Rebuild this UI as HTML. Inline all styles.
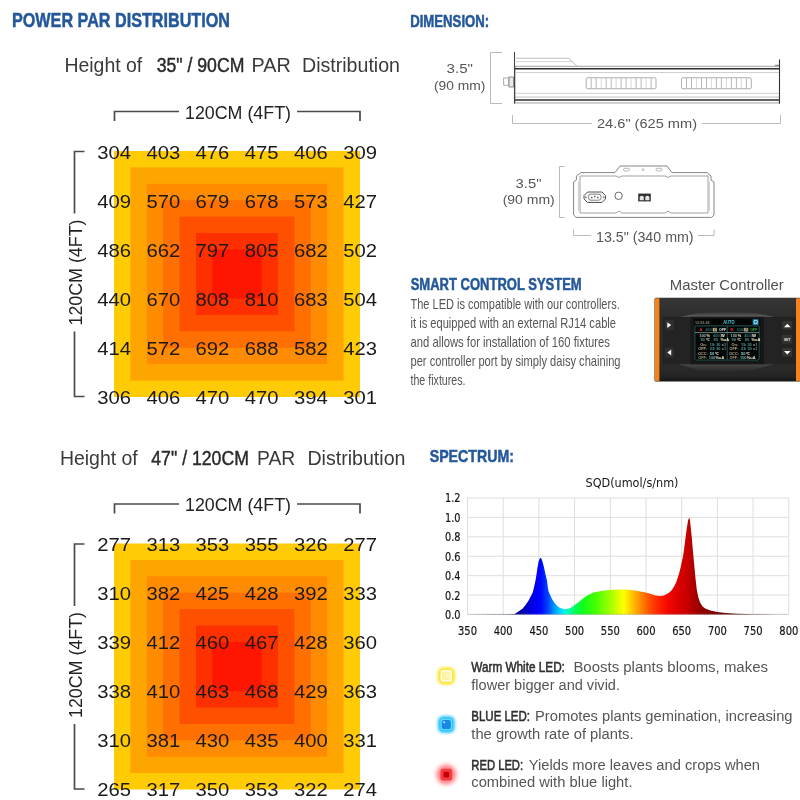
<!DOCTYPE html>
<html lang="en"><head><meta charset="utf-8"><title>Power PAR Distribution</title>
<style>
html,body{margin:0;padding:0;background:#fff;}
body{width:800px;height:800px;overflow:hidden;font-family:"Liberation Sans",sans-serif;}
svg{display:block}
text{font-family:"Liberation Sans",sans-serif;}
.ch text{font-family:"DejaVu Sans","Liberation Sans",sans-serif;}
</style></head><body>
<svg width="800" height="800" viewBox="0 0 800 800">
<rect width="800" height="800" fill="#fff"/>

<text x="12" y="26.6" font-size="20.5" fill="#24589a" font-weight="bold" text-anchor="start" textLength="218" lengthAdjust="spacingAndGlyphs" stroke="#24589a" stroke-width="0.5">POWER PAR DISTRIBUTION</text>
<text x="410.2" y="26.9" font-size="16.2" fill="#24589a" font-weight="bold" text-anchor="start" textLength="79" lengthAdjust="spacingAndGlyphs" stroke="#24589a" stroke-width="0.5">DIMENSION:</text>
<text x="410.7" y="289.7" font-size="15.6" fill="#24589a" font-weight="bold" text-anchor="start" textLength="171" lengthAdjust="spacingAndGlyphs" stroke="#24589a" stroke-width="0.5">SMART CONTROL SYSTEM</text>
<text x="429.7" y="461.5" font-size="17" fill="#24589a" font-weight="bold" text-anchor="start" textLength="84.3" lengthAdjust="spacingAndGlyphs" stroke="#24589a" stroke-width="0.5">SPECTRUM:</text>
<text x="64.4" y="72" font-size="20" fill="#3a3a3a" font-weight="normal" text-anchor="start" textLength="77.9" lengthAdjust="spacingAndGlyphs" >Height of</text>
<text x="156.7" y="72" font-size="20" fill="#2a2a2a" font-weight="normal" text-anchor="start" textLength="87.7" lengthAdjust="spacingAndGlyphs" stroke="#2a2a2a" stroke-width="0.45">35" / 90CM</text>
<text x="251.6" y="72" font-size="20" fill="#3a3a3a" font-weight="normal" text-anchor="start" textLength="39.2" lengthAdjust="spacingAndGlyphs" >PAR</text>
<text x="302" y="72" font-size="20" fill="#3a3a3a" font-weight="normal" text-anchor="start" textLength="98" lengthAdjust="spacingAndGlyphs" >Distribution</text>
<path d="M114.5 121.0V111.5H179M297 111.5H360V121.0" fill="none" stroke="#4a4a4a" stroke-width="1.7"/>
<text x="185" y="118.6" font-size="19" fill="#222" font-weight="normal" text-anchor="start" textLength="106" lengthAdjust="spacingAndGlyphs" >120CM (4FT)</text>
<path d="M84.5 151.5H74.5V213.5M74.5 331.5V396.5H84.5" fill="none" stroke="#4a4a4a" stroke-width="1.7"/>
<g transform="translate(81.6,325.5) rotate(-90)">
<text x="0" y="0" font-size="19" fill="#222" font-weight="normal" text-anchor="start" textLength="106" lengthAdjust="spacingAndGlyphs" >120CM (4FT)</text>
</g>
<rect x="114.0" y="151.0" width="246.0" height="246.0" fill="#ffcb05"/>
<rect x="130.4" y="167.4" width="213.2" height="213.2" fill="#ffa500"/>
<rect x="146.8" y="183.8" width="180.4" height="180.4" fill="#ff8c00"/>
<rect x="163.2" y="200.2" width="147.6" height="147.6" fill="#ff7000"/>
<rect x="179.6" y="216.6" width="114.8" height="114.8" fill="#ff5000"/>
<rect x="196.0" y="233.0" width="82.0" height="82.0" fill="#ff3000"/>
<rect x="212.4" y="249.4" width="49.2" height="49.2" fill="#ff1600"/>
<text x="114.1" y="158.5" font-size="18" fill="#1a1a1a" font-weight="normal" text-anchor="middle" textLength="33.8" lengthAdjust="spacingAndGlyphs" >304</text>
<text x="163.3" y="158.5" font-size="18" fill="#1a1a1a" font-weight="normal" text-anchor="middle" textLength="33.8" lengthAdjust="spacingAndGlyphs" >403</text>
<text x="212.5" y="158.5" font-size="18" fill="#1a1a1a" font-weight="normal" text-anchor="middle" textLength="33.8" lengthAdjust="spacingAndGlyphs" >476</text>
<text x="261.7" y="158.5" font-size="18" fill="#1a1a1a" font-weight="normal" text-anchor="middle" textLength="33.8" lengthAdjust="spacingAndGlyphs" >475</text>
<text x="310.9" y="158.5" font-size="18" fill="#1a1a1a" font-weight="normal" text-anchor="middle" textLength="33.8" lengthAdjust="spacingAndGlyphs" >406</text>
<text x="360.1" y="158.5" font-size="18" fill="#1a1a1a" font-weight="normal" text-anchor="middle" textLength="33.8" lengthAdjust="spacingAndGlyphs" >309</text>
<text x="114.1" y="207.5" font-size="18" fill="#1a1a1a" font-weight="normal" text-anchor="middle" textLength="33.8" lengthAdjust="spacingAndGlyphs" >409</text>
<text x="163.3" y="207.5" font-size="18" fill="#1a1a1a" font-weight="normal" text-anchor="middle" textLength="33.8" lengthAdjust="spacingAndGlyphs" >570</text>
<text x="212.5" y="207.5" font-size="18" fill="#1a1a1a" font-weight="normal" text-anchor="middle" textLength="33.8" lengthAdjust="spacingAndGlyphs" >679</text>
<text x="261.7" y="207.5" font-size="18" fill="#1a1a1a" font-weight="normal" text-anchor="middle" textLength="33.8" lengthAdjust="spacingAndGlyphs" >678</text>
<text x="310.9" y="207.5" font-size="18" fill="#1a1a1a" font-weight="normal" text-anchor="middle" textLength="33.8" lengthAdjust="spacingAndGlyphs" >573</text>
<text x="360.1" y="207.5" font-size="18" fill="#1a1a1a" font-weight="normal" text-anchor="middle" textLength="33.8" lengthAdjust="spacingAndGlyphs" >427</text>
<text x="114.1" y="256.5" font-size="18" fill="#1a1a1a" font-weight="normal" text-anchor="middle" textLength="33.8" lengthAdjust="spacingAndGlyphs" >486</text>
<text x="163.3" y="256.5" font-size="18" fill="#1a1a1a" font-weight="normal" text-anchor="middle" textLength="33.8" lengthAdjust="spacingAndGlyphs" >662</text>
<text x="212.5" y="256.5" font-size="18" fill="#1a1a1a" font-weight="normal" text-anchor="middle" textLength="33.8" lengthAdjust="spacingAndGlyphs" >797</text>
<text x="261.7" y="256.5" font-size="18" fill="#1a1a1a" font-weight="normal" text-anchor="middle" textLength="33.8" lengthAdjust="spacingAndGlyphs" >805</text>
<text x="310.9" y="256.5" font-size="18" fill="#1a1a1a" font-weight="normal" text-anchor="middle" textLength="33.8" lengthAdjust="spacingAndGlyphs" >682</text>
<text x="360.1" y="256.5" font-size="18" fill="#1a1a1a" font-weight="normal" text-anchor="middle" textLength="33.8" lengthAdjust="spacingAndGlyphs" >502</text>
<text x="114.1" y="305.5" font-size="18" fill="#1a1a1a" font-weight="normal" text-anchor="middle" textLength="33.8" lengthAdjust="spacingAndGlyphs" >440</text>
<text x="163.3" y="305.5" font-size="18" fill="#1a1a1a" font-weight="normal" text-anchor="middle" textLength="33.8" lengthAdjust="spacingAndGlyphs" >670</text>
<text x="212.5" y="305.5" font-size="18" fill="#1a1a1a" font-weight="normal" text-anchor="middle" textLength="33.8" lengthAdjust="spacingAndGlyphs" >808</text>
<text x="261.7" y="305.5" font-size="18" fill="#1a1a1a" font-weight="normal" text-anchor="middle" textLength="33.8" lengthAdjust="spacingAndGlyphs" >810</text>
<text x="310.9" y="305.5" font-size="18" fill="#1a1a1a" font-weight="normal" text-anchor="middle" textLength="33.8" lengthAdjust="spacingAndGlyphs" >683</text>
<text x="360.1" y="305.5" font-size="18" fill="#1a1a1a" font-weight="normal" text-anchor="middle" textLength="33.8" lengthAdjust="spacingAndGlyphs" >504</text>
<text x="114.1" y="354.5" font-size="18" fill="#1a1a1a" font-weight="normal" text-anchor="middle" textLength="33.8" lengthAdjust="spacingAndGlyphs" >414</text>
<text x="163.3" y="354.5" font-size="18" fill="#1a1a1a" font-weight="normal" text-anchor="middle" textLength="33.8" lengthAdjust="spacingAndGlyphs" >572</text>
<text x="212.5" y="354.5" font-size="18" fill="#1a1a1a" font-weight="normal" text-anchor="middle" textLength="33.8" lengthAdjust="spacingAndGlyphs" >692</text>
<text x="261.7" y="354.5" font-size="18" fill="#1a1a1a" font-weight="normal" text-anchor="middle" textLength="33.8" lengthAdjust="spacingAndGlyphs" >688</text>
<text x="310.9" y="354.5" font-size="18" fill="#1a1a1a" font-weight="normal" text-anchor="middle" textLength="33.8" lengthAdjust="spacingAndGlyphs" >582</text>
<text x="360.1" y="354.5" font-size="18" fill="#1a1a1a" font-weight="normal" text-anchor="middle" textLength="33.8" lengthAdjust="spacingAndGlyphs" >423</text>
<text x="114.1" y="403.5" font-size="18" fill="#1a1a1a" font-weight="normal" text-anchor="middle" textLength="33.8" lengthAdjust="spacingAndGlyphs" >306</text>
<text x="163.3" y="403.5" font-size="18" fill="#1a1a1a" font-weight="normal" text-anchor="middle" textLength="33.8" lengthAdjust="spacingAndGlyphs" >406</text>
<text x="212.5" y="403.5" font-size="18" fill="#1a1a1a" font-weight="normal" text-anchor="middle" textLength="33.8" lengthAdjust="spacingAndGlyphs" >470</text>
<text x="261.7" y="403.5" font-size="18" fill="#1a1a1a" font-weight="normal" text-anchor="middle" textLength="33.8" lengthAdjust="spacingAndGlyphs" >470</text>
<text x="310.9" y="403.5" font-size="18" fill="#1a1a1a" font-weight="normal" text-anchor="middle" textLength="33.8" lengthAdjust="spacingAndGlyphs" >394</text>
<text x="360.1" y="403.5" font-size="18" fill="#1a1a1a" font-weight="normal" text-anchor="middle" textLength="33.8" lengthAdjust="spacingAndGlyphs" >301</text>
<text x="59.9" y="464.5" font-size="20" fill="#3a3a3a" font-weight="normal" text-anchor="start" textLength="77.9" lengthAdjust="spacingAndGlyphs" >Height of</text>
<text x="151.3" y="464.5" font-size="20" fill="#2a2a2a" font-weight="normal" text-anchor="start" textLength="97.6" lengthAdjust="spacingAndGlyphs" stroke="#2a2a2a" stroke-width="0.45">47" / 120CM</text>
<text x="257" y="464.5" font-size="20" fill="#3a3a3a" font-weight="normal" text-anchor="start" textLength="38.3" lengthAdjust="spacingAndGlyphs" >PAR</text>
<text x="307.4" y="464.5" font-size="20" fill="#3a3a3a" font-weight="normal" text-anchor="start" textLength="98.1" lengthAdjust="spacingAndGlyphs" >Distribution</text>
<path d="M114.5 513.5V504.0H179M297 504.0H360V513.5" fill="none" stroke="#4a4a4a" stroke-width="1.7"/>
<text x="185" y="511.1" font-size="19" fill="#222" font-weight="normal" text-anchor="start" textLength="106" lengthAdjust="spacingAndGlyphs" >120CM (4FT)</text>
<path d="M84.5 544.0H74.5V606.0M74.5 724.0V789.0H84.5" fill="none" stroke="#4a4a4a" stroke-width="1.7"/>
<g transform="translate(81.6,718.0) rotate(-90)">
<text x="0" y="0" font-size="19" fill="#222" font-weight="normal" text-anchor="start" textLength="106" lengthAdjust="spacingAndGlyphs" >120CM (4FT)</text>
</g>
<rect x="114.0" y="543.5" width="246.0" height="246.0" fill="#ffcb05"/>
<rect x="130.4" y="559.9" width="213.2" height="213.2" fill="#ffa500"/>
<rect x="146.8" y="576.3" width="180.4" height="180.4" fill="#ff8c00"/>
<rect x="163.2" y="592.7" width="147.6" height="147.6" fill="#ff7000"/>
<rect x="179.6" y="609.1" width="114.8" height="114.8" fill="#ff5000"/>
<rect x="196.0" y="625.5" width="82.0" height="82.0" fill="#ff3000"/>
<rect x="212.4" y="641.9" width="49.2" height="49.2" fill="#ff1600"/>
<text x="114.1" y="551.0" font-size="18" fill="#1a1a1a" font-weight="normal" text-anchor="middle" textLength="33.8" lengthAdjust="spacingAndGlyphs" >277</text>
<text x="163.3" y="551.0" font-size="18" fill="#1a1a1a" font-weight="normal" text-anchor="middle" textLength="33.8" lengthAdjust="spacingAndGlyphs" >313</text>
<text x="212.5" y="551.0" font-size="18" fill="#1a1a1a" font-weight="normal" text-anchor="middle" textLength="33.8" lengthAdjust="spacingAndGlyphs" >353</text>
<text x="261.7" y="551.0" font-size="18" fill="#1a1a1a" font-weight="normal" text-anchor="middle" textLength="33.8" lengthAdjust="spacingAndGlyphs" >355</text>
<text x="310.9" y="551.0" font-size="18" fill="#1a1a1a" font-weight="normal" text-anchor="middle" textLength="33.8" lengthAdjust="spacingAndGlyphs" >326</text>
<text x="360.1" y="551.0" font-size="18" fill="#1a1a1a" font-weight="normal" text-anchor="middle" textLength="33.8" lengthAdjust="spacingAndGlyphs" >277</text>
<text x="114.1" y="600.0" font-size="18" fill="#1a1a1a" font-weight="normal" text-anchor="middle" textLength="33.8" lengthAdjust="spacingAndGlyphs" >310</text>
<text x="163.3" y="600.0" font-size="18" fill="#1a1a1a" font-weight="normal" text-anchor="middle" textLength="33.8" lengthAdjust="spacingAndGlyphs" >382</text>
<text x="212.5" y="600.0" font-size="18" fill="#1a1a1a" font-weight="normal" text-anchor="middle" textLength="33.8" lengthAdjust="spacingAndGlyphs" >425</text>
<text x="261.7" y="600.0" font-size="18" fill="#1a1a1a" font-weight="normal" text-anchor="middle" textLength="33.8" lengthAdjust="spacingAndGlyphs" >428</text>
<text x="310.9" y="600.0" font-size="18" fill="#1a1a1a" font-weight="normal" text-anchor="middle" textLength="33.8" lengthAdjust="spacingAndGlyphs" >392</text>
<text x="360.1" y="600.0" font-size="18" fill="#1a1a1a" font-weight="normal" text-anchor="middle" textLength="33.8" lengthAdjust="spacingAndGlyphs" >333</text>
<text x="114.1" y="649.0" font-size="18" fill="#1a1a1a" font-weight="normal" text-anchor="middle" textLength="33.8" lengthAdjust="spacingAndGlyphs" >339</text>
<text x="163.3" y="649.0" font-size="18" fill="#1a1a1a" font-weight="normal" text-anchor="middle" textLength="33.8" lengthAdjust="spacingAndGlyphs" >412</text>
<text x="212.5" y="649.0" font-size="18" fill="#1a1a1a" font-weight="normal" text-anchor="middle" textLength="33.8" lengthAdjust="spacingAndGlyphs" >460</text>
<text x="261.7" y="649.0" font-size="18" fill="#1a1a1a" font-weight="normal" text-anchor="middle" textLength="33.8" lengthAdjust="spacingAndGlyphs" >467</text>
<text x="310.9" y="649.0" font-size="18" fill="#1a1a1a" font-weight="normal" text-anchor="middle" textLength="33.8" lengthAdjust="spacingAndGlyphs" >428</text>
<text x="360.1" y="649.0" font-size="18" fill="#1a1a1a" font-weight="normal" text-anchor="middle" textLength="33.8" lengthAdjust="spacingAndGlyphs" >360</text>
<text x="114.1" y="698.0" font-size="18" fill="#1a1a1a" font-weight="normal" text-anchor="middle" textLength="33.8" lengthAdjust="spacingAndGlyphs" >338</text>
<text x="163.3" y="698.0" font-size="18" fill="#1a1a1a" font-weight="normal" text-anchor="middle" textLength="33.8" lengthAdjust="spacingAndGlyphs" >410</text>
<text x="212.5" y="698.0" font-size="18" fill="#1a1a1a" font-weight="normal" text-anchor="middle" textLength="33.8" lengthAdjust="spacingAndGlyphs" >463</text>
<text x="261.7" y="698.0" font-size="18" fill="#1a1a1a" font-weight="normal" text-anchor="middle" textLength="33.8" lengthAdjust="spacingAndGlyphs" >468</text>
<text x="310.9" y="698.0" font-size="18" fill="#1a1a1a" font-weight="normal" text-anchor="middle" textLength="33.8" lengthAdjust="spacingAndGlyphs" >429</text>
<text x="360.1" y="698.0" font-size="18" fill="#1a1a1a" font-weight="normal" text-anchor="middle" textLength="33.8" lengthAdjust="spacingAndGlyphs" >363</text>
<text x="114.1" y="747.0" font-size="18" fill="#1a1a1a" font-weight="normal" text-anchor="middle" textLength="33.8" lengthAdjust="spacingAndGlyphs" >310</text>
<text x="163.3" y="747.0" font-size="18" fill="#1a1a1a" font-weight="normal" text-anchor="middle" textLength="33.8" lengthAdjust="spacingAndGlyphs" >381</text>
<text x="212.5" y="747.0" font-size="18" fill="#1a1a1a" font-weight="normal" text-anchor="middle" textLength="33.8" lengthAdjust="spacingAndGlyphs" >430</text>
<text x="261.7" y="747.0" font-size="18" fill="#1a1a1a" font-weight="normal" text-anchor="middle" textLength="33.8" lengthAdjust="spacingAndGlyphs" >435</text>
<text x="310.9" y="747.0" font-size="18" fill="#1a1a1a" font-weight="normal" text-anchor="middle" textLength="33.8" lengthAdjust="spacingAndGlyphs" >400</text>
<text x="360.1" y="747.0" font-size="18" fill="#1a1a1a" font-weight="normal" text-anchor="middle" textLength="33.8" lengthAdjust="spacingAndGlyphs" >331</text>
<text x="114.1" y="796.0" font-size="18" fill="#1a1a1a" font-weight="normal" text-anchor="middle" textLength="33.8" lengthAdjust="spacingAndGlyphs" >265</text>
<text x="163.3" y="796.0" font-size="18" fill="#1a1a1a" font-weight="normal" text-anchor="middle" textLength="33.8" lengthAdjust="spacingAndGlyphs" >317</text>
<text x="212.5" y="796.0" font-size="18" fill="#1a1a1a" font-weight="normal" text-anchor="middle" textLength="33.8" lengthAdjust="spacingAndGlyphs" >350</text>
<text x="261.7" y="796.0" font-size="18" fill="#1a1a1a" font-weight="normal" text-anchor="middle" textLength="33.8" lengthAdjust="spacingAndGlyphs" >353</text>
<text x="310.9" y="796.0" font-size="18" fill="#1a1a1a" font-weight="normal" text-anchor="middle" textLength="33.8" lengthAdjust="spacingAndGlyphs" >322</text>
<text x="360.1" y="796.0" font-size="18" fill="#1a1a1a" font-weight="normal" text-anchor="middle" textLength="33.8" lengthAdjust="spacingAndGlyphs" >274</text>
<text x="459.8" y="73.3" font-size="13.2" fill="#565656" font-weight="normal" text-anchor="middle" textLength="26.4" lengthAdjust="spacingAndGlyphs" >3.5"</text>
<text x="459.7" y="89.8" font-size="13.2" fill="#565656" font-weight="normal" text-anchor="middle" textLength="51.4" lengthAdjust="spacingAndGlyphs" >(90 mm)</text>
<path d="M502 52.5H490.5V103.5H502" fill="none" stroke="#bababa" stroke-width="1"/>
<path d="M512.5 115V123.5H592M702 123.5H780.5V115" fill="none" stroke="#bababa" stroke-width="1"/>
<text x="647" y="128.3" font-size="13.5" fill="#565656" font-weight="normal" text-anchor="middle" textLength="100" lengthAdjust="spacingAndGlyphs" >24.6" (625 mm)</text>
<g fill="none" stroke="#555" stroke-width="0.8">
<path d="M516 58.2H568.7L577 66.2" stroke="#aaa"/>
<path d="M516 61.6H572" stroke="#c8c8c8"/>
<rect x="515" y="66.25" width="264.5" height="36.7" fill="#fff" stroke="#888" stroke-width="0.8"/>
<path d="M515 68.8H779" stroke="#2e2e2e" stroke-width="1.6"/>
<path d="M515 72.5H779" stroke="#c4c4c4"/>
<path d="M515 93.3H779" stroke="#c4c4c4"/>
<path d="M515 97H779" stroke="#b0b0b0"/>
<path d="M515 100H779" stroke="#2e2e2e" stroke-width="1.6"/>
<path d="M514.5 52V103.7" stroke="#444" stroke-width="1.1"/>
<path d="M779.5 59.4V103.7" stroke="#333" stroke-width="1.1"/>
<path d="M775 65.3H779" stroke="#666" stroke-width="0.9"/>
<rect x="503.7" y="78" width="5.3" height="7.2" stroke="#999" fill="#fff"/><rect x="509" y="77" width="4.6" height="10" stroke="#777" fill="#e8e8e8"/>
<rect x="586.2" y="77.75" width="69.8" height="11" rx="1.5" stroke="#999" stroke-width="0.8"/>
<path d="M591.2 78.2V88.3" stroke="#999" stroke-width="0.7"/>
<path d="M596.2 78.2V88.3" stroke="#999" stroke-width="0.7"/>
<path d="M601.2 78.2V88.3" stroke="#c8c8c8" stroke-width="0.7"/>
<path d="M606.2 78.2V88.3" stroke="#999" stroke-width="0.7"/>
<path d="M611.2 78.2V88.3" stroke="#999" stroke-width="0.7"/>
<path d="M616.1 78.2V88.3" stroke="#c8c8c8" stroke-width="0.7"/>
<path d="M621.1 78.2V88.3" stroke="#999" stroke-width="0.7"/>
<path d="M626.1 78.2V88.3" stroke="#999" stroke-width="0.7"/>
<path d="M631.1 78.2V88.3" stroke="#c8c8c8" stroke-width="0.7"/>
<path d="M636.1 78.2V88.3" stroke="#999" stroke-width="0.7"/>
<path d="M641.1 78.2V88.3" stroke="#999" stroke-width="0.7"/>
<path d="M646.1 78.2V88.3" stroke="#c8c8c8" stroke-width="0.7"/>
<path d="M651.1 78.2V88.3" stroke="#999" stroke-width="0.7"/>
<rect x="681.5" y="77.75" width="69.8" height="11" rx="1.5" stroke="#999" stroke-width="0.8"/>
<path d="M686.5 78.2V88.3" stroke="#999" stroke-width="0.7"/>
<path d="M691.5 78.2V88.3" stroke="#999" stroke-width="0.7"/>
<path d="M696.5 78.2V88.3" stroke="#c8c8c8" stroke-width="0.7"/>
<path d="M701.5 78.2V88.3" stroke="#999" stroke-width="0.7"/>
<path d="M706.5 78.2V88.3" stroke="#999" stroke-width="0.7"/>
<path d="M711.4 78.2V88.3" stroke="#c8c8c8" stroke-width="0.7"/>
<path d="M716.4 78.2V88.3" stroke="#999" stroke-width="0.7"/>
<path d="M721.4 78.2V88.3" stroke="#999" stroke-width="0.7"/>
<path d="M726.4 78.2V88.3" stroke="#c8c8c8" stroke-width="0.7"/>
<path d="M731.4 78.2V88.3" stroke="#999" stroke-width="0.7"/>
<path d="M736.4 78.2V88.3" stroke="#999" stroke-width="0.7"/>
<path d="M741.4 78.2V88.3" stroke="#c8c8c8" stroke-width="0.7"/>
<path d="M746.4 78.2V88.3" stroke="#999" stroke-width="0.7"/>
</g>
<text x="528.5" y="187.7" font-size="13" fill="#565656" font-weight="normal" text-anchor="middle" textLength="26" lengthAdjust="spacingAndGlyphs" >3.5"</text>
<text x="528.7" y="204" font-size="13" fill="#565656" font-weight="normal" text-anchor="middle" textLength="52" lengthAdjust="spacingAndGlyphs" >(90 mm)</text>
<path d="M564.5 166.5H559.5V217.5H564.5" fill="none" stroke="#bababa" stroke-width="1"/>
<path d="M573.6 229.5V235.500H591M698 235.500H714V229.5" fill="none" stroke="#bababa" stroke-width="1"/>
<text x="644.8" y="242" font-size="14" fill="#565656" font-weight="normal" text-anchor="middle" textLength="97.6" lengthAdjust="spacingAndGlyphs" >13.5" (340 mm)</text>
<g fill="none" stroke="#777" stroke-width="0.9">
<path d="M581.0 172.6 L615.0 172.6 L620.0 166.0 L667.0 166.0 L672.0 172.6 L707.0 172.6 L711.0 176.0 L711.0 180.0 L714.0 182.0 L714.0 215.0 L711.6 217.4 L576.0 217.4 L573.6 215.0 L573.6 182.0 L576.4 180.0 L576.4 176.0Z" fill="#fff" stroke="#777"/>
<path d="M580.0 176.0 L616.0 176.0 L619.0 177.4 L622.0 176.0 L665.0 176.0 L668.0 177.4 L671.0 176.0 L708.0 176.0 L708.0 213.0 L671.0 213.0 L668.0 211.0 L665.0 213.0 L622.0 213.0 L619.0 211.0 L616.0 213.0 L580.0 213.0Z" stroke="#888" stroke-width="0.8"/>
<path d="M578.5 181.5V210.5M709.5 181.5V210.5" stroke="#bbb" stroke-width="0.7"/>
<rect x="623.5" y="168.3" width="6" height="2.6" rx="1.3" stroke="#999" stroke-width="0.7"/><rect x="656" y="168.3" width="6" height="2.6" rx="1.3" stroke="#999" stroke-width="0.7"/><circle cx="643" cy="169.6" r="0.9" stroke="#999" stroke-width="0.7"/>
<path d="M584 195.5L587.500 192H602L605.500 195.500V199L602 202.500H587.500L584 199Z" stroke="#555" stroke-width="1" fill="#f4f4f4"/>
<rect x="588.5" y="194.2" width="12.500" height="6" rx="2.500" stroke="#666" stroke-width="0.800" fill="#fff"/>
<path d="M591.8 196.800V198.200M594.800 195.800V197.200M597.800 196.800V198.200" stroke="#333" stroke-width="1.200"/>
<circle cx="585.8" cy="197.2" r="0.8" fill="#555" stroke="none"/><circle cx="603.8" cy="197.2" r="0.8" fill="#555" stroke="none"/>
<circle cx="618.6" cy="195.8" r="3.7" stroke="#555" stroke-width="0.900"/>
<rect x="638.2" y="193.6" width="12.600" height="7.800" fill="#2e2e2e" stroke="none"/>
<path d="M639.700 200.300V196.800Q641.800 194.800 643.800 196.800V200.300ZM645.300 200.300V196.800Q647.300 194.800 649.400 196.800V200.300Z" fill="#e4e4e4" stroke="none"/>
</g>
<text x="410.5" y="309.4" font-size="15" fill="#555" font-weight="normal" text-anchor="start" textLength="209.2" lengthAdjust="spacingAndGlyphs" >The LED is compatible with our controllers.</text>
<text x="410.5" y="328.2" font-size="15" fill="#555" font-weight="normal" text-anchor="start" textLength="205.5" lengthAdjust="spacingAndGlyphs" >it is equipped with an external RJ14 cable</text>
<text x="410.5" y="347.0" font-size="15" fill="#555" font-weight="normal" text-anchor="start" textLength="199.5" lengthAdjust="spacingAndGlyphs" >and allows for installation of 160 fixtures</text>
<text x="410.5" y="365.8" font-size="15" fill="#555" font-weight="normal" text-anchor="start" textLength="210" lengthAdjust="spacingAndGlyphs" >per controller port by simply daisy chaining</text>
<text x="410.5" y="384.6" font-size="15" fill="#555" font-weight="normal" text-anchor="start" textLength="55" lengthAdjust="spacingAndGlyphs" >the fixtures.</text>
<text x="726.8" y="289.5" font-size="14.8" fill="#505050" font-weight="normal" text-anchor="middle" textLength="114" lengthAdjust="spacingAndGlyphs" >Master Controller</text>
<g>
<defs><linearGradient id="cb" x1="0" y1="0" x2="0" y2="1"><stop offset="0" stop-color="#363636"/><stop offset="0.2" stop-color="#2e2e2e"/><stop offset="0.8" stop-color="#2b2b2b"/><stop offset="0.93" stop-color="#252525"/><stop offset="1" stop-color="#161616"/></linearGradient>
<linearGradient id="cf" x1="0" y1="0" x2="0" y2="1"><stop offset="0" stop-color="#333"/><stop offset="1" stop-color="#636363"/></linearGradient>
<linearGradient id="cg" x1="0" y1="0" x2="0" y2="1"><stop offset="0" stop-color="#474747"/><stop offset="1" stop-color="#2b2b2b"/></linearGradient></defs>
<rect x="654.500" y="297.800" width="146" height="83.700" rx="1.500" fill="url(#cb)"/>
<rect x="654.700" y="298.300" width="4.700" height="82.600" fill="#f5821f"/>
<rect x="796" y="298.300" width="4" height="82.600" fill="#f5821f"/>
<path d="M680 317L698 313Q727 311.200 756 313L774 317Z" fill="url(#cf)"/>
<path d="M678 364L700 370.500Q726 372 752 370.500L774 364Z" fill="url(#cg)"/>
<rect x="662.500" y="316.800" width="133.500" height="47.400" fill="#232323"/>
<rect x="690.500" y="316.800" width="73.500" height="47.400" fill="#171717"/>
<rect x="694.300" y="318.800" width="65.800" height="42.200" fill="#040606"/>
<rect x="664.800" y="320" width="9" height="10" rx="1" fill="#303030"/><rect x="664.800" y="347.500" width="9" height="10" rx="1" fill="#303030"/>
<path d="M667.300 322.200V328L671.200 325.100Z" fill="#fff"/><path d="M671.200 349.600V355.400L667.300 352.500Z" fill="#fff"/>
<rect x="782" y="321" width="10.300" height="8.500" rx="1" fill="#343434"/>
<rect x="782" y="335" width="10.300" height="8.500" rx="1" fill="#343434"/>
<rect x="782" y="348" width="10.300" height="8.500" rx="1" fill="#343434"/>
<path d="M784 327.200H790.600L787.300 323.800Z" fill="#fff"/><path d="M784 351H790.600L787.300 354.400Z" fill="#fff"/>
<text x="787.2" y="340.5" font-size="3.3" fill="#eee" font-weight="bold" text-anchor="middle" >SET</text>
<g fill="none" stroke="#377f80" stroke-width="0.650"><rect x="694.900" y="325.900" width="64.300" height="34.200" rx="1"/><path d="M727.200 326V360"/><path d="M695 332.600H759.200" stroke="#8fc4c4"/></g>
<g font-weight="bold">
<text x="695" y="323.6" font-size="3.6" fill="#8a8a78" font-weight="bold" text-anchor="start" >12:02:28</text>
<text x="728.9" y="323.9" font-size="4.6" fill="#49cfd6" font-weight="bold" text-anchor="middle" textLength="11.2" lengthAdjust="spacingAndGlyphs" >AUTO</text>
<rect x="752.700" y="319.100" width="5.900" height="5.900" fill="#1d6c9c"/><circle cx="755.650" cy="322.050" r="1.750" fill="none" stroke="#8fe8f0" stroke-width="1.100"/>
<text x="699.3" y="331.3" font-size="4.4" fill="#e02222" font-weight="bold" text-anchor="start" >A</text>
<text x="705.5" y="331.1" font-size="3.6" fill="#3a6a6c" font-weight="bold" text-anchor="start" >4000</text>
<rect x="713.1" y="327.900" width="3.900" height="3.500" fill="#e4dc9c"/>
<text x="713.7" y="331" font-size="3.2" fill="#333" font-weight="bold" text-anchor="start" >W</text>
<text x="719.1" y="331.1" font-size="3.6" fill="#d4e8dc" font-weight="bold" text-anchor="start" >OFF</text>
<text x="699.3" y="337" font-size="3.9" fill="#a4c4bc" font-weight="bold" text-anchor="start" >100</text>
<text x="706.6" y="337" font-size="3.9" fill="#f0f0c4" font-weight="bold" text-anchor="start" >%</text>
<text x="713" y="337" font-size="3.9" fill="#3f7476" font-weight="bold" text-anchor="start" >4500</text>
<text x="721" y="337" font-size="3.9" fill="#ffffdc" font-weight="bold" text-anchor="start" >W</text>
<text x="700.4" y="341.3" font-size="3.9" fill="#5fa0a0" font-weight="bold" text-anchor="start" >90</text>
<text x="706.2" y="341.3" font-size="3.9" fill="#d8e8d0" font-weight="bold" text-anchor="start" >℃</text>
<text x="713.6" y="341.3" font-size="3.9" fill="#4f8c8c" font-weight="bold" text-anchor="start" >89</text>
<text x="720.4" y="341.3" font-size="3.9" fill="#f4f4d0" font-weight="bold" text-anchor="start" >%uA</text>
<text x="700.2" y="346.1" font-size="3.9" fill="#b4ac8c" font-weight="bold" text-anchor="start" >On:</text>
<text x="709.8" y="346.1" font-size="3.9" fill="#4f9c9c" font-weight="bold" text-anchor="start" >19</text>
<text x="713.5" y="346.1" font-size="3.9" fill="#7aa" font-weight="bold" text-anchor="start" >:</text>
<text x="716.2" y="346.1" font-size="3.9" fill="#4f9c9c" font-weight="bold" text-anchor="start" >30</text>
<text x="721.8" y="346.1" font-size="3.9" fill="#7a9a98" font-weight="bold" text-anchor="start" >±1</text>
<text x="698.2" y="350.4" font-size="3.9" fill="#b4ac8c" font-weight="bold" text-anchor="start" >OFF:</text>
<text x="709.8" y="350.4" font-size="3.9" fill="#4f9c9c" font-weight="bold" text-anchor="start" >23</text>
<text x="713.5" y="350.4" font-size="3.9" fill="#7aa" font-weight="bold" text-anchor="start" >:</text>
<text x="716.2" y="350.4" font-size="3.9" fill="#4f9c9c" font-weight="bold" text-anchor="start" >30</text>
<text x="721.8" y="350.4" font-size="3.9" fill="#6a8a88" font-weight="bold" text-anchor="start" >±1</text>
<text x="697.9" y="355.1" font-size="3.9" fill="#b4ac8c" font-weight="bold" text-anchor="start" >OCC:</text>
<text x="709.8" y="355.1" font-size="3.9" fill="#86d4d4" font-weight="bold" text-anchor="start" >50</text>
<text x="715.2" y="355.1" font-size="3.9" fill="#f0f0e0" font-weight="bold" text-anchor="start" >℃</text>
<text x="698.2" y="359.3" font-size="3.9" fill="#a49c7c" font-weight="bold" text-anchor="start" >OFF:</text>
<text x="708.8" y="359.3" font-size="3.9" fill="#6fb4b4" font-weight="bold" text-anchor="start" >100</text>
<text x="715.6" y="359.3" font-size="3.9" fill="#e8e8c8" font-weight="bold" text-anchor="start" >%uA</text>
<text x="730.5" y="331.3" font-size="4.4" fill="#e02222" font-weight="bold" text-anchor="start" >B</text>
<text x="736.7" y="331.1" font-size="3.6" fill="#3a6a6c" font-weight="bold" text-anchor="start" >6342</text>
<rect x="744.3" y="327.900" width="3.900" height="3.500" fill="#e4dc9c"/>
<text x="744.9000000000001" y="331" font-size="3.2" fill="#333" font-weight="bold" text-anchor="start" >W</text>
<text x="750.3000000000001" y="331.1" font-size="3.6" fill="#3fae3c" font-weight="bold" text-anchor="start" >OFF</text>
<text x="730.5" y="337" font-size="3.9" fill="#a4c4bc" font-weight="bold" text-anchor="start" >100</text>
<text x="737.8" y="337" font-size="3.9" fill="#f0f0c4" font-weight="bold" text-anchor="start" >%</text>
<text x="744.2" y="337" font-size="3.9" fill="#3f7476" font-weight="bold" text-anchor="start" >4500</text>
<text x="752.2" y="337" font-size="3.9" fill="#ffffdc" font-weight="bold" text-anchor="start" >W</text>
<text x="731.6" y="341.3" font-size="3.9" fill="#5fa0a0" font-weight="bold" text-anchor="start" >90</text>
<text x="737.4" y="341.3" font-size="3.9" fill="#d8e8d0" font-weight="bold" text-anchor="start" >℃</text>
<text x="744.8" y="341.3" font-size="3.9" fill="#4f8c8c" font-weight="bold" text-anchor="start" >89</text>
<text x="751.6" y="341.3" font-size="3.9" fill="#f4f4d0" font-weight="bold" text-anchor="start" >%uA</text>
<text x="731.4" y="346.1" font-size="3.9" fill="#b4ac8c" font-weight="bold" text-anchor="start" >On:</text>
<text x="741.0" y="346.1" font-size="3.9" fill="#4f9c9c" font-weight="bold" text-anchor="start" >19</text>
<text x="744.7" y="346.1" font-size="3.9" fill="#7aa" font-weight="bold" text-anchor="start" >:</text>
<text x="747.4" y="346.1" font-size="3.9" fill="#4f9c9c" font-weight="bold" text-anchor="start" >30</text>
<text x="753.0" y="346.1" font-size="3.9" fill="#7a9a98" font-weight="bold" text-anchor="start" >±1</text>
<text x="729.4" y="350.4" font-size="3.9" fill="#b4ac8c" font-weight="bold" text-anchor="start" >OFF:</text>
<text x="741.0" y="350.4" font-size="3.9" fill="#4f9c9c" font-weight="bold" text-anchor="start" >23</text>
<text x="744.7" y="350.4" font-size="3.9" fill="#7aa" font-weight="bold" text-anchor="start" >:</text>
<text x="747.4" y="350.4" font-size="3.9" fill="#4f9c9c" font-weight="bold" text-anchor="start" >30</text>
<text x="753.0" y="350.4" font-size="3.9" fill="#6a8a88" font-weight="bold" text-anchor="start" >±1</text>
<text x="729.1" y="355.1" font-size="3.9" fill="#b4ac8c" font-weight="bold" text-anchor="start" >OCC:</text>
<text x="741.0" y="355.1" font-size="3.9" fill="#86d4d4" font-weight="bold" text-anchor="start" >50</text>
<text x="746.4" y="355.1" font-size="3.9" fill="#f0f0e0" font-weight="bold" text-anchor="start" >℃</text>
<text x="729.4" y="359.3" font-size="3.9" fill="#a49c7c" font-weight="bold" text-anchor="start" >OFF:</text>
<text x="740.0" y="359.3" font-size="3.9" fill="#6fb4b4" font-weight="bold" text-anchor="start" >100</text>
<text x="746.8" y="359.3" font-size="3.9" fill="#e8e8c8" font-weight="bold" text-anchor="start" >%uA</text>
</g>
</g>
<g class="ch">
<path d="M467.50 498.00V614.50M503.19 498.00V614.50M538.89 498.00V614.50M574.59 498.00V614.50M610.28 498.00V614.50M645.98 498.00V614.50M681.67 498.00V614.50M717.37 498.00V614.50M753.06 498.00V614.50M788.75 498.00V614.50M467.50 614.50H788.75M467.50 595.08H788.75M467.50 575.67H788.75M467.50 556.25H788.75M467.50 536.84H788.75M467.50 517.42H788.75M467.50 498.00H788.75" fill="none" stroke="#dedede" stroke-width="1"/>
<defs><linearGradient id="sp" gradientUnits="userSpaceOnUse" x1="467.50" y1="0" x2="788.75" y2="0">
<stop offset="0.1333" stop-color="#000040"/>
<stop offset="0.1556" stop-color="#000088"/>
<stop offset="0.1822" stop-color="#0000c4"/>
<stop offset="0.2089" stop-color="#0000f0"/>
<stop offset="0.2289" stop-color="#0008ff"/>
<stop offset="0.2489" stop-color="#0040ff"/>
<stop offset="0.2667" stop-color="#0088ff"/>
<stop offset="0.2844" stop-color="#00c8ff"/>
<stop offset="0.3000" stop-color="#00f0f0"/>
<stop offset="0.3156" stop-color="#00ffb0"/>
<stop offset="0.3333" stop-color="#00ff60"/>
<stop offset="0.3600" stop-color="#10ff18"/>
<stop offset="0.4000" stop-color="#48ff00"/>
<stop offset="0.4400" stop-color="#98ff00"/>
<stop offset="0.4667" stop-color="#d8ff00"/>
<stop offset="0.4867" stop-color="#ffff00"/>
<stop offset="0.5067" stop-color="#ffd000"/>
<stop offset="0.5333" stop-color="#ff9800"/>
<stop offset="0.5622" stop-color="#ff5800"/>
<stop offset="0.5911" stop-color="#ff2800"/>
<stop offset="0.6222" stop-color="#f40800"/>
<stop offset="0.6556" stop-color="#dc0000"/>
<stop offset="0.6844" stop-color="#c80000"/>
<stop offset="0.7067" stop-color="#a80000"/>
<stop offset="0.7333" stop-color="#900000"/>
<stop offset="0.7778" stop-color="#780000"/>
<stop offset="0.8667" stop-color="#500000"/>
<stop offset="1.0000" stop-color="#300000"/>
</linearGradient></defs>
<path d="M467.50 614.50 L508.91 614.31 L514.62 613.92 L518.76 611.30 L522.47 608.68 L525.61 604.99 L528.90 599.94 L532.75 592.46 L534.25 586.35 L535.61 580.04 L536.61 573.73 L537.50 567.51 L538.53 562.08 L539.60 558.68 L540.53 557.71 L541.46 558.68 L542.46 561.59 L544.03 567.51 L545.32 573.73 L546.89 580.04 L547.60 585.38 L548.17 589.74 L549.10 592.66 L550.24 595.08 L551.74 598.48 L553.88 601.88 L556.24 604.99 L558.88 607.22 L561.73 608.48 L565.02 609.16 L568.16 608.87 L571.73 607.22 L575.01 604.79 L578.87 601.88 L582.44 598.97 L586.01 596.25 L590.01 594.11 L594.57 592.37 L600.00 591.20 L606.71 590.23 L613.85 589.74 L619.99 589.45 L624.56 589.45 L630.27 589.94 L635.27 590.52 L640.26 591.39 L645.98 592.56 L650.97 594.11 L655.26 595.38 L659.97 596.05 L662.75 595.76 L665.61 594.79 L669.25 592.56 L671.68 590.23 L674.25 586.35 L676.67 581.01 L679.31 572.76 L680.96 565.96 L683.03 556.25 L684.17 548.49 L685.53 537.81 L686.81 528.10 L688.10 520.33 L689.24 517.42 L689.88 519.85 L690.81 528.10 L691.81 537.81 L692.88 550.43 L694.23 564.99 L695.31 576.64 L696.73 589.26 L698.23 597.03 L699.95 602.37 L702.37 606.25 L705.23 608.48 L710.23 610.42 L717.37 611.88 L725.93 612.95 L737.35 613.72 L753.06 614.21 L774.48 614.40 L788.75 614.50 L788.75 614.50 L467.50 614.50Z" fill="url(#sp)"/>
<path d="M467.50 614.20H788.75" stroke="#999" stroke-width="0.8" stroke-dasharray="1.5 1.2" opacity="0.7"/>
<text x="460.5" y="618.9" font-size="12" fill="#151515" font-weight="normal" text-anchor="end" textLength="15.5" lengthAdjust="spacingAndGlyphs" stroke="#151515" stroke-width="0.2">0.0</text>
<text x="460.5" y="599.5" font-size="12" fill="#151515" font-weight="normal" text-anchor="end" textLength="15.5" lengthAdjust="spacingAndGlyphs" stroke="#151515" stroke-width="0.2">0.2</text>
<text x="460.5" y="580.1" font-size="12" fill="#151515" font-weight="normal" text-anchor="end" textLength="15.5" lengthAdjust="spacingAndGlyphs" stroke="#151515" stroke-width="0.2">0.4</text>
<text x="460.5" y="560.7" font-size="12" fill="#151515" font-weight="normal" text-anchor="end" textLength="15.5" lengthAdjust="spacingAndGlyphs" stroke="#151515" stroke-width="0.2">0.6</text>
<text x="460.5" y="541.2" font-size="12" fill="#151515" font-weight="normal" text-anchor="end" textLength="15.5" lengthAdjust="spacingAndGlyphs" stroke="#151515" stroke-width="0.2">0.8</text>
<text x="460.5" y="521.8" font-size="12" fill="#151515" font-weight="normal" text-anchor="end" textLength="15.5" lengthAdjust="spacingAndGlyphs" stroke="#151515" stroke-width="0.2">1.0</text>
<text x="460.5" y="502.4" font-size="12" fill="#151515" font-weight="normal" text-anchor="end" textLength="15.5" lengthAdjust="spacingAndGlyphs" stroke="#151515" stroke-width="0.2">1.2</text>
<text x="467.5" y="635.2" font-size="12" fill="#151515" font-weight="normal" text-anchor="middle" textLength="19" lengthAdjust="spacingAndGlyphs" stroke="#151515" stroke-width="0.2">350</text>
<text x="503.2" y="635.2" font-size="12" fill="#151515" font-weight="normal" text-anchor="middle" textLength="19" lengthAdjust="spacingAndGlyphs" stroke="#151515" stroke-width="0.2">400</text>
<text x="538.9" y="635.2" font-size="12" fill="#151515" font-weight="normal" text-anchor="middle" textLength="19" lengthAdjust="spacingAndGlyphs" stroke="#151515" stroke-width="0.2">450</text>
<text x="574.6" y="635.2" font-size="12" fill="#151515" font-weight="normal" text-anchor="middle" textLength="19" lengthAdjust="spacingAndGlyphs" stroke="#151515" stroke-width="0.2">500</text>
<text x="610.3" y="635.2" font-size="12" fill="#151515" font-weight="normal" text-anchor="middle" textLength="19" lengthAdjust="spacingAndGlyphs" stroke="#151515" stroke-width="0.2">550</text>
<text x="646.0" y="635.2" font-size="12" fill="#151515" font-weight="normal" text-anchor="middle" textLength="19" lengthAdjust="spacingAndGlyphs" stroke="#151515" stroke-width="0.2">600</text>
<text x="681.7" y="635.2" font-size="12" fill="#151515" font-weight="normal" text-anchor="middle" textLength="19" lengthAdjust="spacingAndGlyphs" stroke="#151515" stroke-width="0.2">650</text>
<text x="717.4" y="635.2" font-size="12" fill="#151515" font-weight="normal" text-anchor="middle" textLength="19" lengthAdjust="spacingAndGlyphs" stroke="#151515" stroke-width="0.2">700</text>
<text x="753.1" y="635.2" font-size="12" fill="#151515" font-weight="normal" text-anchor="middle" textLength="19" lengthAdjust="spacingAndGlyphs" stroke="#151515" stroke-width="0.2">750</text>
<text x="788.8" y="635.2" font-size="12" fill="#151515" font-weight="normal" text-anchor="middle" textLength="19" lengthAdjust="spacingAndGlyphs" stroke="#151515" stroke-width="0.2">800</text>
<text x="632" y="487" font-size="11.5" fill="#151515" font-weight="normal" text-anchor="middle" textLength="93" lengthAdjust="spacingAndGlyphs" >SQD(umol/s/nm)</text>
</g>
<defs><filter id="bl" x="-50%" y="-50%" width="200%" height="200%"><feGaussianBlur stdDeviation="1.500"/></filter><filter id="bl2" x="-50%" y="-50%" width="200%" height="200%"><feGaussianBlur stdDeviation="2"/></filter></defs>
<rect x="437.80" y="667.40" width="17" height="17" rx="5.5" fill="#ffe21c" filter="url(#bl)"/>
<rect x="440.50" y="670.10" width="11.6" height="11.6" rx="2.8" fill="#fffdf0" />
<rect x="441.90" y="671.50" width="8.8" height="8.8" rx="1.8" fill="#fff3a2" />
<rect x="445.90" y="673.70" width="3.2" height="3.2" rx="0.8" fill="#fff8c8" />
<rect x="438.05" y="716.25" width="16.5" height="16.5" rx="5" fill="#12bcff" filter="url(#bl)"/>
<rect x="440.50" y="718.70" width="11.6" height="11.6" rx="2.8" fill="#62dcff" />
<rect x="441.70" y="719.90" width="9.2" height="9.2" rx="2" fill="#1789e4" />
<circle cx="444.1" cy="722.3" r="1" fill="#bfeaff"/>
<circle cx="446.3" cy="774.6" r="10" fill="#ff6068" opacity="0.800" filter="url(#bl2)"/>
<rect x="440.50" y="768.80" width="11.6" height="11.6" rx="2.5" fill="#f23c40" />
<rect x="443.50" y="771.80" width="5.6" height="5.6" rx="0.8" fill="#c40006" />
<text x="471.3" y="672.4" font-size="14.2" fill="#2e2e2e" font-weight="normal" text-anchor="start" textLength="93.6" lengthAdjust="spacingAndGlyphs" stroke="#2e2e2e" stroke-width="0.55">Warm White LED:</text>
<text x="573.4" y="672.4" font-size="13.8" fill="#555" font-weight="normal" text-anchor="start" textLength="194.6" lengthAdjust="spacingAndGlyphs" >Boosts plants blooms, makes</text>
<text x="471.3" y="689.5" font-size="13.8" fill="#555" font-weight="normal" text-anchor="start" textLength="148.7" lengthAdjust="spacingAndGlyphs" >flower bigger and vivid.</text>
<text x="471.3" y="721" font-size="14.2" fill="#2e2e2e" font-weight="normal" text-anchor="start" textLength="58.7" lengthAdjust="spacingAndGlyphs" stroke="#2e2e2e" stroke-width="0.55">BLUE LED:</text>
<text x="535" y="721" font-size="13.8" fill="#555" font-weight="normal" text-anchor="start" textLength="257.5" lengthAdjust="spacingAndGlyphs" >Promotes plants gemination, increasing</text>
<text x="471.3" y="738.5" font-size="13.8" fill="#555" font-weight="normal" text-anchor="start" textLength="162.2" lengthAdjust="spacingAndGlyphs" >the growth rate of plants.</text>
<text x="471.3" y="770.3" font-size="14.2" fill="#2e2e2e" font-weight="normal" text-anchor="start" textLength="51.8" lengthAdjust="spacingAndGlyphs" stroke="#2e2e2e" stroke-width="0.55">RED LED:</text>
<text x="528.8" y="770.3" font-size="13.8" fill="#555" font-weight="normal" text-anchor="start" textLength="231.2" lengthAdjust="spacingAndGlyphs" >Yields more leaves and crops when</text>
<text x="471.3" y="787" font-size="13.8" fill="#555" font-weight="normal" text-anchor="start" textLength="161.2" lengthAdjust="spacingAndGlyphs" >combined with blue light.</text>
</svg></body></html>
